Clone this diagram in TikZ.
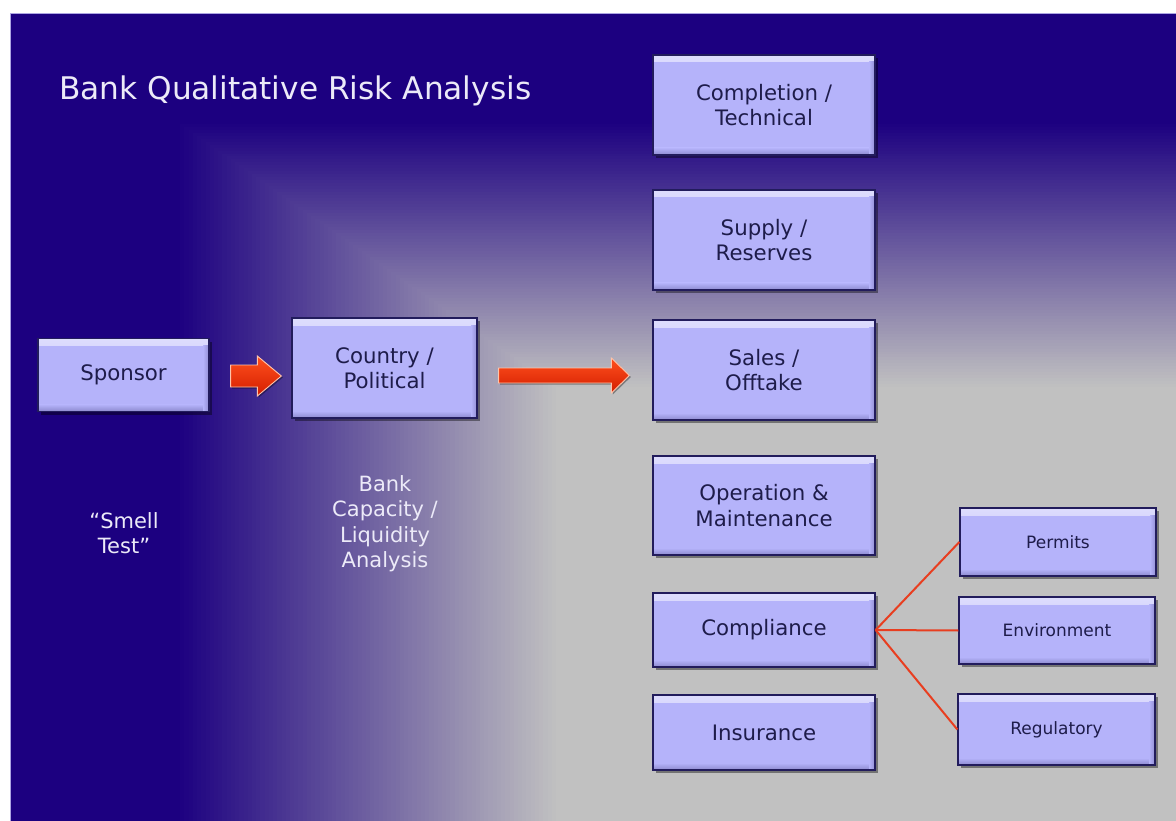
\documentclass[tikz,border=0pt]{standalone}
\usepackage{fontspec}
\setmainfont{DejaVu Sans}
\usetikzlibrary{calc,shadows}

\definecolor{navybg}{RGB}{28,0,128}
\definecolor{graybg}{RGB}{193,193,193}
\definecolor{slideedge}{RGB}{172,164,226}
\definecolor{boxfill}{RGB}{181,179,250}
\definecolor{boxline}{RGB}{34,28,92}
\definecolor{boxtext}{RGB}{30,28,74}
\definecolor{lighttext}{RGB}{236,234,248}
\definecolor{linkred}{RGB}{232,62,32}
\definecolor{arrowtop}{RGB}{255,80,30}
\definecolor{arrowbot}{RGB}{212,30,0}
\definecolor{arrowrim}{RGB}{255,196,170}

\tikzset{
  riskbox/.style={
    draw=boxline, line width=1.3pt, fill=boxfill, text=boxtext,
    align=center, inner sep=0pt,
    font=\fontsize{21.3}{25.5}\selectfont,
    drop shadow={shadow xshift=3pt, shadow yshift=-3pt, opacity=0.4, fill=black},
    path picture={
      \shade[top color=boxfill!45!white, bottom color=boxfill]
        (path picture bounding box.north west) rectangle
        ([yshift=-7pt]path picture bounding box.north east);
      \shade[top color=boxfill, bottom color=boxfill!72!boxline]
        ([yshift=7pt]path picture bounding box.south west) rectangle
        (path picture bounding box.south east);
      \shade[left color=boxfill, right color=boxfill!75!boxline]
        ([xshift=-6pt,yshift=-7pt]path picture bounding box.north east) rectangle
        (path picture bounding box.south east);
    }},
  mainbox/.style={riskbox, minimum width=222pt, minimum height=100pt},
  subbox/.style={riskbox, font=\fontsize{17}{20}\selectfont,
    minimum width=196pt, minimum height=68pt},
  note/.style={text=lighttext, align=center, inner sep=0pt,
    font=\fontsize{21}{25.5}\selectfont},
  link/.style={draw=linkred, line width=2pt},
  arrowbody/.style={top color=arrowtop, bottom color=arrowbot,
    draw=arrowrim, line width=0.9pt, line join=miter,
    drop shadow={shadow xshift=1.5pt, shadow yshift=-1.5pt, opacity=0.35, fill=black}}
}

% block arrow: tail, tip, shaft half width, head half width, head length
\newcommand{\bkarrow}[5]{%
  \path[arrowbody] ($(#1)+(0,-#3)$) -- ($(#2)+(-#5,-#3)$) -- ($(#2)+(-#5,-#4)$)
    -- (#2) -- ($(#2)+(-#5,#4)$) -- ($(#2)+(-#5,#3)$) -- ($(#1)+(0,#3)$) -- cycle;}

\begin{document}
\begin{tikzpicture}[x=1pt,y=-1pt]
  \useasboundingbox (0,0) rectangle (1176,821);

  % page and slide background
  \fill[white] (0,0) rectangle (1176,821);
  \fill[navybg] (10,13) rectangle (1176,821);
  \foreach \i in {0,...,90}{
    \pgfmathsetmacro{\t}{1-0.38*\i/90}
    \pgfmathsetmacro{\m}{100*\i/90}
    \fill[graybg!\m!navybg] ({1176-1000*\t},{821-700*\t}) rectangle (1176,821);
  }
  \draw[slideedge, line width=1.5pt] (10.5,821) -- (10.5,13.5) -- (1176,13.5);

  % title
  \node[anchor=base west, inner sep=0pt, text=lighttext,
        font=\fontsize{31.2}{37}\selectfont] (title) at (59,100)
        {Bank Qualitative Risk Analysis};

  % left stages
  \node[riskbox, minimum width=171pt, minimum height=73pt] (sponsor) at (123.5,375) {Sponsor};
  \node[riskbox, minimum width=185pt, minimum height=100pt] (country) at (384.5,368) {Country /\\Political};

  \node[note] (smell) at (124,533) {“Smell\\Test”};
  \node[note] (capacity) at (385,523.5) {Bank\\Capacity /\\Liquidity\\Analysis};

  % project risk column
  \node[mainbox] (completion) at (764,105) {Completion /\\Technical};
  \node[mainbox] (supply) at (764,240) {Supply /\\Reserves};
  \node[mainbox] (sales) at (764,370) {Sales /\\Offtake};
  \node[mainbox, minimum height=99pt] (operation) at (764,505.5) {Operation \&\\Maintenance};
  \node[mainbox, minimum height=74pt] (compliance) at (764,630) {Compliance};
  \node[mainbox, minimum height=75pt] (insurance) at (764,732.5) {Insurance};

  % compliance breakdown
  \node[subbox] (permits) at (1058,542) {Permits};
  \node[subbox, minimum height=67pt] (environment) at (1057,630.5) {Environment};
  \node[subbox, minimum width=197pt, minimum height=71pt] (regulatory) at (1056.5,729.5) {Regulatory};

  \draw[link] (compliance.east) -- (permits.west);
  \draw[link] (compliance.east) -- (environment.west);
  \draw[link] (compliance.east) -- (regulatory.west);

  % flow arrows
  \coordinate (a1s) at ($(sponsor.east)+(21,1)$);
  \coordinate (a1e) at ($(country.west)+(-10,8)$);
  \coordinate (a2s) at ($(country.east)+(21,7.5)$);
  \coordinate (a2e) at ($(sales.west)+(-23,5.5)$);
  \bkarrow{a1s}{a1e}{11}{20}{24}
  \bkarrow{a2s}{a2e}{7.5}{17.5}{18}
\end{tikzpicture}
\end{document}
